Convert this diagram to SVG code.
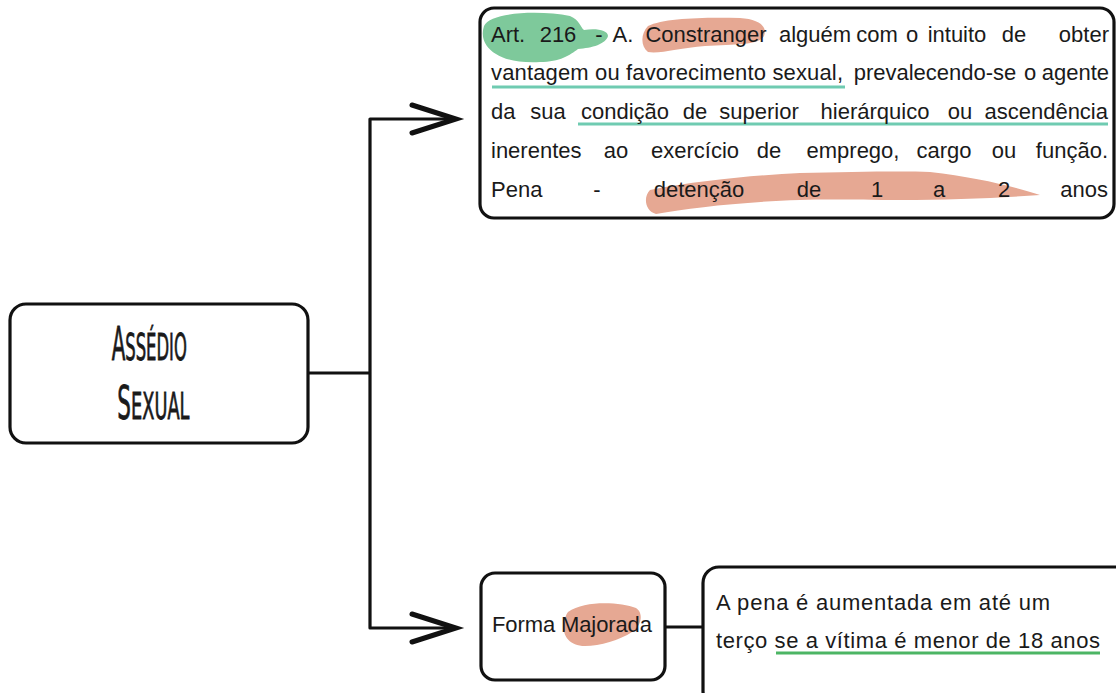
<svg xmlns="http://www.w3.org/2000/svg" width="1116" height="693" viewBox="0 0 1116 693">
<style>
.box{fill:#fff;stroke:#111;stroke-width:3.2}
.conn{fill:none;stroke:#111;stroke-width:3.2;stroke-linejoin:round;stroke-linecap:round}
.arr{fill:none;stroke:#111;stroke-width:5;stroke-linecap:round;stroke-linejoin:miter}
.t{font-family:"Liberation Sans","DejaVu Sans",sans-serif;font-size:22px;fill:#1a1a1a}
.m{text-anchor:middle}
.e{text-anchor:end}
.title{font-family:"DejaVu Sans Condensed","DejaVu Sans","Liberation Sans",sans-serif;font-stretch:condensed;fill:#1a1a1a;stroke:#1a1a1a;stroke-width:0.8;text-anchor:middle}
.sal{fill:#e6a893}
.grn{fill:#7ec99b}
.ul{stroke:#6fcbb1;stroke-width:3;fill:none}
.ul2{stroke:#4cb564;stroke-width:3;fill:none}
</style>
<rect width="1116" height="693" fill="#fff"/>
<g id="connectors">
<path class="conn" d="M308,373 H370 M370,119 V628 M370,119 H455 M370,628 H455"/>
<path class="arr" d="M412,105 L456,119 L412,133"/>
<path class="arr" d="M412,614 L456,628 L412,642"/>
<path class="conn" d="M665,627 H703"/>
</g>
<g id="node-assedio">
<rect class="box" x="10" y="304" width="298" height="139" rx="16"/>
<g transform="scale(0.48,1)">
<text class="title" x="311" y="360"><tspan font-size="46">A</tspan><tspan font-size="38">SSÉDIO</tspan></text>
</g>
<g transform="scale(0.52,1)">
<text class="title" x="295" y="419"><tspan font-size="46">S</tspan><tspan font-size="38">EXUAL</tspan></text>
</g>
</g>
<g id="node-art216">
<rect class="box" x="480" y="8" width="634" height="210" rx="14"/>
<path class="grn" d="M484,26 C490,12 540,10 570,16 C580,20 580,27 584,30 C596,28 608,30 608,36 C606,44 592,48 578,49 C570,55 560,62 540,62 C520,63 505,60 496,54 C486,48 480,38 484,26 Z"/>
<path class="sal" d="M648,26 C664,18 705,17 740,18 C758,19 768,26 764,36 C758,46 735,44 705,46 C680,48 660,54 648,52 C640,46 641,33 648,26 Z"/>
<path class="sal" d="M650,190 C700,180 760,175 800,173 C850,172 900,171 930,172 C975,177 1012,186 1040,195 C1000,198 950,200 900,200 C860,200 830,199 800,200 C740,202 690,208 656,214 C645,211 643,197 650,190 Z"/>
<path class="ul" d="M492,87 H845 M578,124 H1108"/>
<text class="t" x="491" y="42">Art.</text>
<text class="t m" x="558" y="42">216</text>
<text class="t m" x="599" y="42">-</text>
<text class="t m" x="623" y="42">A.</text>
<text class="t m" x="706" y="42">Constranger</text>
<text class="t m" x="815" y="42">alguém</text>
<text class="t m" x="877" y="42">com</text>
<text class="t m" x="912" y="42">o</text>
<text class="t m" x="957" y="42">intuito</text>
<text class="t m" x="1014" y="42">de</text>
<text class="t e" x="1109" y="42">obter</text>
<text class="t" x="491" y="80" textLength="352" lengthAdjust="spacing">vantagem ou favorecimento sexual,</text>
<text class="t m" x="935" y="80">prevalecendo-se</text>
<text class="t m" x="1030" y="80">o</text>
<text class="t e" x="1109" y="80">agente</text>
<text class="t" x="491" y="119">da</text>
<text class="t m" x="548" y="119">sua</text>
<text class="t m" x="625" y="119">condição</text>
<text class="t m" x="695" y="119">de</text>
<text class="t m" x="759" y="119">superior</text>
<text class="t m" x="875" y="119">hierárquico</text>
<text class="t m" x="960" y="119">ou</text>
<text class="t e" x="1108" y="119">ascendência</text>
<text class="t" x="491" y="158">inerentes</text>
<text class="t m" x="616" y="158">ao</text>
<text class="t m" x="695" y="158">exercício</text>
<text class="t m" x="769" y="158">de</text>
<text class="t m" x="853" y="158">emprego,</text>
<text class="t m" x="944" y="158">cargo</text>
<text class="t m" x="1004" y="158">ou</text>
<text class="t e" x="1108" y="158">função.</text>
<text class="t" x="491" y="197">Pena</text>
<text class="t m" x="597" y="197">-</text>
<text class="t m" x="699" y="197">detenção</text>
<text class="t m" x="809" y="197">de</text>
<text class="t m" x="877" y="197">1</text>
<text class="t m" x="939" y="197">a</text>
<text class="t m" x="1004" y="197">2</text>
<text class="t e" x="1108" y="197">anos</text>
</g>
<g id="node-forma">
<rect class="box" x="481" y="573" width="184" height="107" rx="14"/>
<path class="sal" d="M568,612 C585,600 620,602 636,608 C645,614 640,628 632,632 C620,640 600,646 585,646 C570,646 562,636 564,624 C565,618 566,614 568,612 Z"/>
<text class="t" x="492" y="632" textLength="160" lengthAdjust="spacing">Forma Majorada</text>
</g>
<g id="node-pena">
<rect class="box" x="703" y="567" width="430" height="140" rx="16"/>
<path class="ul2" d="M776,653 H1100"/>
<text class="t" x="716" y="610" textLength="334" lengthAdjust="spacing">A pena é aumentada em até um</text>
<text class="t" x="716" y="648" textLength="384" lengthAdjust="spacing">terço se a vítima é menor de 18 anos</text>
</g>
</svg>
